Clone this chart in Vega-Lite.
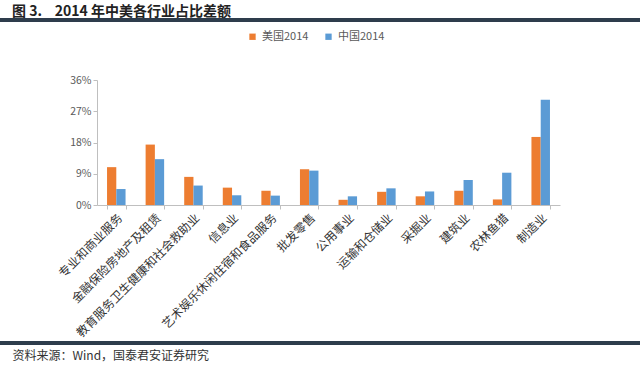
{
  "$schema": "https://vega.github.io/schema/vega-lite/v6.json",
  "autosize": {"type": "none"},
  "width": 640,
  "height": 125,
  "padding": {"left": 0, "top": 80, "right": 0, "bottom": 163},
  "background": "white",
  "config": {
    "view": {"stroke": null},
    "font": "Noto Sans CJK SC"
  },
  "title": {
    "text": "图\u00a03.\u00a0\u00a0\u00a0\u00a02014\u00a0年中美各行业占比差额",
    "anchor": "start",
    "frame": "group",
    "dx": 12,
    "dy": 3,
    "offset": 2,
    "fontSize": 14,
    "fontWeight": "bold",
    "color": "#222222",
    "font": "Noto Sans CJK SC"
  },
  "data": {
    "values": [
      {"industry": "专业和商业服务", "country": "美国2014", "value": 0.109},
      {"industry": "专业和商业服务", "country": "中国2014", "value": 0.046},
      {"industry": "金融保险房地产及租赁", "country": "美国2014", "value": 0.174},
      {"industry": "金融保险房地产及租赁", "country": "中国2014", "value": 0.132},
      {"industry": "教育服务卫生健康和社会救助业", "country": "美国2014", "value": 0.081},
      {"industry": "教育服务卫生健康和社会救助业", "country": "中国2014", "value": 0.056},
      {"industry": "信息业", "country": "美国2014", "value": 0.050},
      {"industry": "信息业", "country": "中国2014", "value": 0.028},
      {"industry": "艺术娱乐休闲住宿和食品服务", "country": "美国2014", "value": 0.041},
      {"industry": "艺术娱乐休闲住宿和食品服务", "country": "中国2014", "value": 0.027},
      {"industry": "批发零售", "country": "美国2014", "value": 0.103},
      {"industry": "批发零售", "country": "中国2014", "value": 0.099},
      {"industry": "公用事业", "country": "美国2014", "value": 0.015},
      {"industry": "公用事业", "country": "中国2014", "value": 0.025},
      {"industry": "运输和仓储业", "country": "美国2014", "value": 0.038},
      {"industry": "运输和仓储业", "country": "中国2014", "value": 0.048},
      {"industry": "采掘业", "country": "美国2014", "value": 0.025},
      {"industry": "采掘业", "country": "中国2014", "value": 0.039},
      {"industry": "建筑业", "country": "美国2014", "value": 0.041},
      {"industry": "建筑业", "country": "中国2014", "value": 0.072},
      {"industry": "农林鱼猎", "country": "美国2014", "value": 0.016},
      {"industry": "农林鱼猎", "country": "中国2014", "value": 0.093},
      {"industry": "制造业", "country": "美国2014", "value": 0.196},
      {"industry": "制造业", "country": "中国2014", "value": 0.303}
    ]
  },
  "layer": [
    {
      "mark": {"type": "bar"},
      "encoding": {
        "x": {
          "field": "industry",
          "type": "nominal",
          "sort": null,
          "scale": {"range": [97, 560], "paddingInner": 0.52, "paddingOuter": 0.26},
          "axis": {
            "tickBand": "extent",
            "labelAngle": -45,
            "labelFontSize": 12,
            "labelColor": "#333333",
            "labelFont": "Noto Sans CJK SC",
            "labelPadding": 3,
            "domainColor": "#BFBFBF",
            "tickColor": "#BFBFBF",
            "tickSize": 4,
            "title": "资料来源：Wind，国泰君安证券研究",
            "titleAnchor": "start",
            "titleX": 12,
            "titleY": 150,
            "titleAlign": "left",
            "titleBaseline": "middle",
            "titleFontSize": 12,
            "titleFontWeight": "normal",
            "titleColor": "#333333",
            "titleFont": "Noto Sans CJK SC"
          }
        },
        "xOffset": {"field": "country", "type": "nominal", "sort": ["美国2014", "中国2014"]},
        "y": {
          "field": "value",
          "type": "quantitative",
          "scale": {"domain": [0, 0.36], "nice": false, "zero": true},
          "axis": {
            "values": [0, 0.09, 0.18, 0.27, 0.36],
            "tickCount": 10,
            "format": ".0%",
            "offset": -97,
            "grid": false,
            "title": null,
            "labelOverlap": false,
            "domainColor": "#BFBFBF",
            "tickColor": "#BFBFBF",
            "tickSize": 4,
            "labelColor": "#595959",
            "labelFontSize": 10.5,
            "labelPadding": 2
          }
        },
        "color": {
          "field": "country",
          "type": "nominal",
          "sort": ["美国2014", "中国2014"],
          "scale": {"domain": ["美国2014", "中国2014"], "range": ["#ED7D31", "#5B9BD5"]},
          "legend": {
            "orient": "none",
            "legendX": 247,
            "legendY": -49,
            "direction": "horizontal",
            "title": null,
            "symbolType": "square",
            "symbolSize": 40,
            "labelFontSize": 11,
            "labelColor": "#595959",
            "columnPadding": 14
          }
        }
      }
    },
    {
      "mark": {"type": "rule", "strokeWidth": 3, "color": "#2E3D4C"},
      "encoding": {"y": {"datum": 0.533}}
    },
    {
      "mark": {"type": "rule", "strokeWidth": 3, "color": "#2E3D4C"},
      "encoding": {"y": {"datum": -0.398}}
    }
  ]
}
